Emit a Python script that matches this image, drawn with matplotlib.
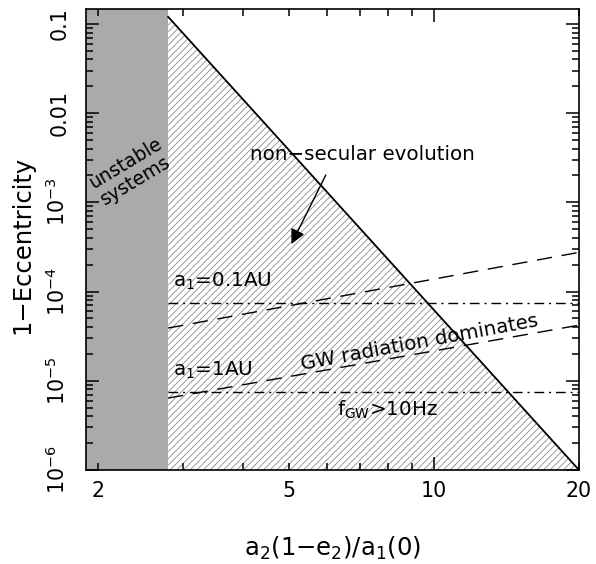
import matplotlib
matplotlib.use('Agg')
import matplotlib.pyplot as plt
from matplotlib.ticker import FixedLocator, FuncFormatter, NullFormatter

# stability limit and boundary of the secular regime
x_stable = 2.8
boundary_x = [2.8, 20]
boundary_y = [0.12, 1e-6]

# f_GW > 10 Hz limits (dash-dot)
fgw_x = [2.8, 20]
fgw_01au = [7.5e-5, 7.5e-5]
fgw_1au = [7.5e-6, 7.5e-6]

# GW radiation dominates (dashed)
gw_x = [2.8, 20]
gw_01au = [3.9e-5, 2.75e-4]
gw_1au = [6.4e-6, 4.2e-5]

xlim = (1.89, 20)
ylim = (1e-6, 0.147)

yticks = [1e-6, 1e-5, 1e-4, 1e-3, 1e-2, 1e-1]
yticklabels = ['$10^{-6}$', '$10^{-5}$', '$10^{-4}$', '$10^{-3}$', '0.01', '0.1']
xlabelled = {2: '2', 5: '5', 10: '10', 20: '20'}

plt.rcParams['hatch.linewidth'] = 0.6

fig = plt.figure(figsize=(5.96, 5.64), dpi=100)
ax = fig.add_axes([0.1443, 0.1667, 0.8272, 0.8174])
ax.set_xscale('log')
ax.set_yscale('log')
ax.set_xlim(*xlim)
ax.set_ylim(*ylim)

ax.axvspan(xlim[0], x_stable, color='#aaaaaa', lw=0, zorder=1)
ax.fill([x_stable] + boundary_x, [ylim[0]] + boundary_y, facecolor='none',
        edgecolor='0.55', hatch='/////', lw=0, zorder=1)
ax.plot(boundary_x, boundary_y, color='k', lw=1.3, zorder=3)

ax.plot(fgw_x, fgw_01au, color='k', lw=1.0, dashes=(7, 3.5, 1.5, 3.5), zorder=3)
ax.plot(fgw_x, fgw_1au, color='k', lw=1.0, dashes=(7, 3.5, 1.5, 3.5), zorder=3)
ax.plot(gw_x, gw_01au, color='k', lw=1.0, dashes=(11, 7), zorder=3)
ax.plot(gw_x, gw_1au, color='k', lw=1.0, dashes=(11, 7), zorder=3)

fs = 14.3
ax.text(2.34, 2.2e-3, 'unstable\nsystems', rotation=31, ha='center', va='center',
        rotation_mode='anchor', fontsize=13.6, linespacing=1.05, zorder=4)
ax.text(7.11, 3.43e-3, 'non\u2212secular evolution', ha='center', va='center',
        fontsize=fs, zorder=4)
ax.annotate('', xy=(5.02, 3.2e-4), xytext=(5.99, 2.16e-3),
            arrowprops=dict(arrowstyle='-|>', color='k', lw=1.0, mutation_scale=22),
            zorder=4)
ax.text(2.87, 1.12e-4, 'a$_1$=0.1AU', ha='left', va='baseline', fontsize=fs, zorder=4)
ax.text(2.87, 1.13e-5, 'a$_1$=1AU', ha='left', va='baseline', fontsize=fs, zorder=4)
ax.text(9.35, 2.3e-5, 'GW radiation dominates', rotation=10.5, ha='center',
        va='baseline', rotation_mode='anchor', fontsize=fs, zorder=4)
ax.text(6.28, 4.03e-6, r'f$_{\rm GW}$>10Hz', ha='left', va='baseline', fontsize=fs, zorder=4)

# ticks
ax.xaxis.set_major_locator(FixedLocator([10]))
ax.xaxis.set_minor_locator(FixedLocator([2, 3, 4, 5, 6, 7, 8, 9, 20]))
fmt = FuncFormatter(lambda v, p: xlabelled.get(int(round(v)), ''))
ax.xaxis.set_major_formatter(fmt)
ax.xaxis.set_minor_formatter(fmt)

ax.yaxis.set_major_locator(FixedLocator(yticks))
minors = [m * 10.0**e for e in range(-6, 0) for m in range(2, 10)]
ax.yaxis.set_minor_locator(FixedLocator(minors))
ax.yaxis.set_minor_formatter(NullFormatter())
ax.set_yticklabels(yticklabels)
for lab in ax.get_yticklabels():
    lab.set_rotation(90)
    lab.set_va('center')

ax.tick_params(which='both', direction='in', top=True, right=True, width=1.1,
               labelsize=fs + 0.5)
ax.tick_params(which='major', length=9.5)
ax.tick_params(which='minor', length=5)
ax.tick_params(axis='x', which='both', pad=8)
ax.tick_params(axis='y', which='both', pad=12)
for s in ax.spines.values():
    s.set_linewidth(1.2)

fig.text(333 / 596, 1 - 548 / 564, 'a$_2$(1$-$e$_2$)/a$_1$(0)', ha='center', va='center',
         fontsize=17.5)
fig.text(22 / 596, 1 - 245 / 564, '1\u2212Eccentricity', rotation=90, ha='center',
         va='center', fontsize=17.5)

fig.savefig('out.png', dpi=100)
